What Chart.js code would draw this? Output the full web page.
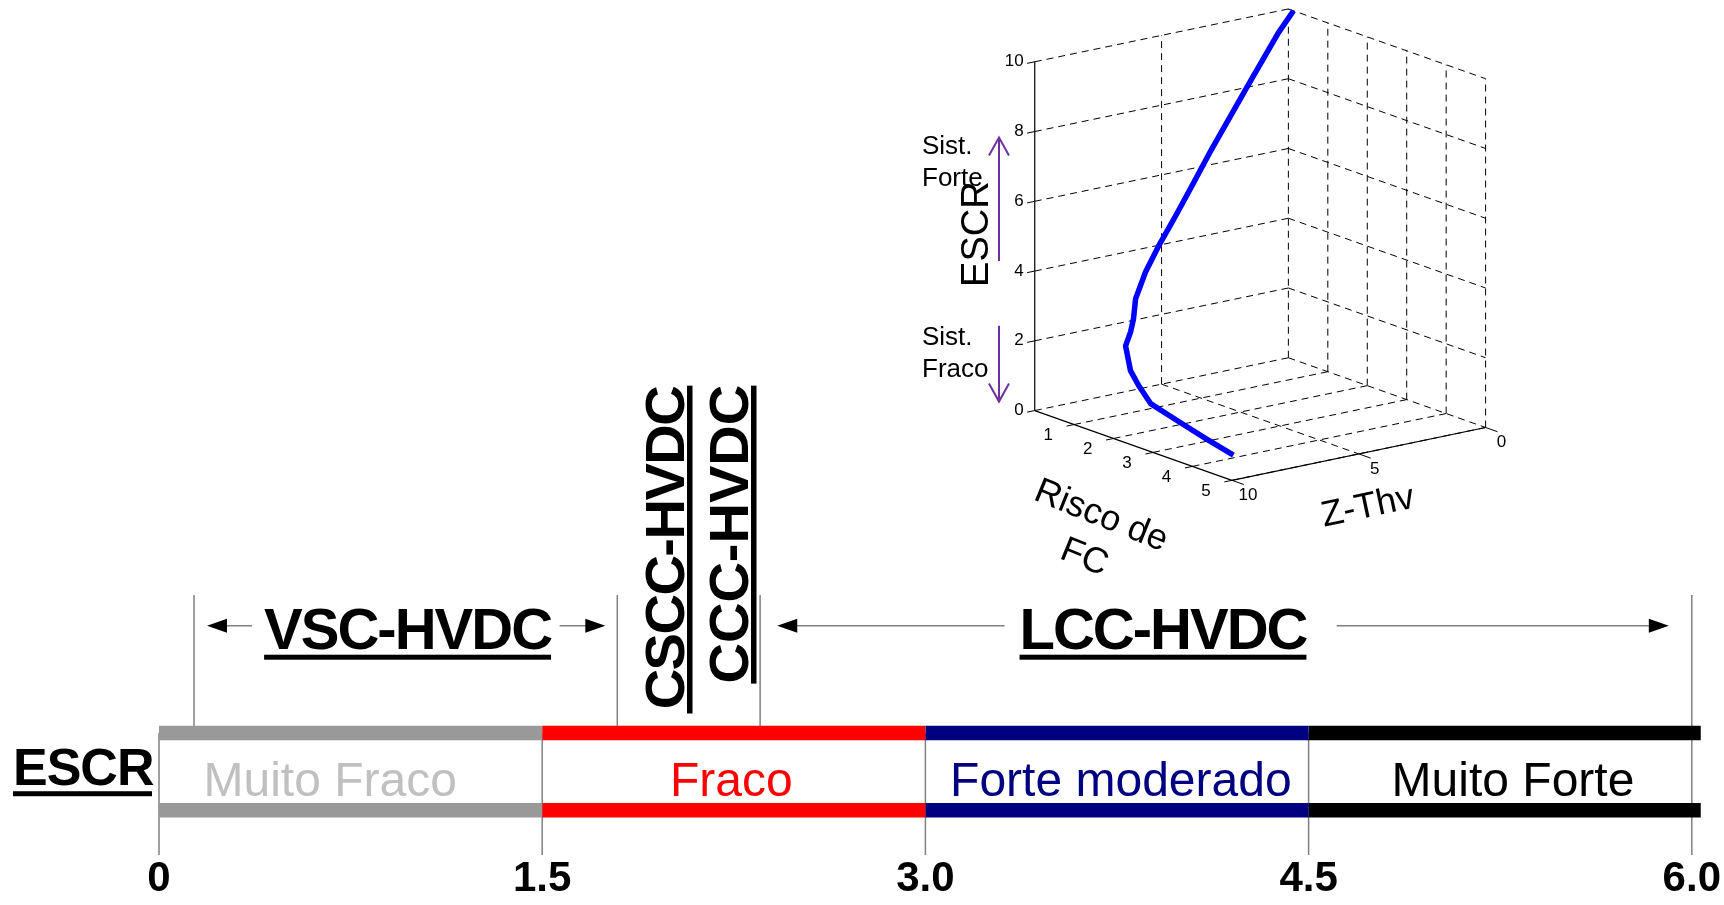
<!DOCTYPE html>
<html>
<head>
<meta charset="utf-8">
<script src="https://cdn.jsdelivr.net/npm/chart.js@4.4.1/dist/chart.umd.min.js"></script>
<style>
  html, body { margin: 0; padding: 0; background: #ffffff; }
  #chart { display: block; }
</style>
</head>
<body>
<canvas id="chart" width="1724" height="905"></canvas>
<script>
// ESCR ruler: region limits, names and colours
const escrBounds = [0, 1.5, 3.0, 4.5, 6.0];
const tickLabels = ['0', '1.5', '3.0', '4.5', '6.0'];
const regionNames = ['Muito Fraco', 'Fraco', 'Forte moderado', 'Muito Forte'];
const regionLabelAt = [0.67, 2.24, 3.765, 5.30];
const regionBarColors = ['#999999', '#ff0000', '#000080', '#000000'];
const regionTextColors = ['#c0c0c0', '#ff0000', '#000080', '#000000'];

// converter technologies and the ESCR where their guide lines stand
const techNames = ['VSC-HVDC', 'CSCC-HVDC', 'CCC-HVDC', 'LCC-HVDC'];
const techLimits = [0.137, 1.794, 2.353, 6.0];

// inset curve: Risco de FC, Z-Thv and ESCR
const riscoFC = [0.13, 0.15, 0.2, 0.3, 0.35, 0.4, 0.45, 0.5, 0.55, 0.6, 0.7, 0.85, 1.27, 1.48, 1.78, 2.49, 3.17, 3.88];
const zThv = [0, 0.63, 2.0, 3.5, 4.36, 5.07, 5.82, 6.41, 6.88, 7.04, 7.31, 7.74, 8.2, 8.2, 8.2, 8.2, 8.2, 8.2];
const escrCurve = [10, 9.47, 8.07, 6.62, 5.71, 4.99, 4.26, 3.63, 2.95, 2.42, 2.13, 1.85, 1.38, 1.03, 0.64, 0.41, 0.2, 0];
const riscoTicks = [1, 2, 3, 4, 5];
const zThvTicks = [0, 5, 10];
const escrTicks = [0, 2, 4, 6, 8, 10];

// layout (pixel rows used through the y scale)
const Y_BAND_TOP = 735.5, Y_BAND_BOTTOM = 813, BAND_W = 14.5;
const Y_AXIS_END = 858, Y_GUIDE_TOP = 597, Y_ARROWS = 628;
const BAR_OVERSHOOT = 0.035;

// inset view: oblique projection of the MATLAB box
const RISCO_MAX = 5, ZTHV_MAX = 10, ESCR_MAX = 10;
const ORIGIN = [1290, 359];
const V_RISCO = [39.5, 14];
const V_ZTHV = [-25.4, 5.3];
const V_ESCR = [0, -35];

function proj(r, z, e) {
    return {
        x: ORIGIN[0] + r * V_RISCO[0] + z * V_ZTHV[0] + e * V_ESCR[0],
        y: ORIGIN[1] + r * V_RISCO[1] + z * V_ZTHV[1] + e * V_ESCR[1]
    };
}

// join a list of segments into one path with gaps
function segPoints(segs) {
    const pts = [];
    segs.forEach((s, i) => {
        if (i) pts.push({ x: NaN, y: NaN });
        s.forEach(p => pts.push(p));
    });
    return pts;
}
function seg3d(segs) {
    return segPoints(segs.map(s => s.map(p => proj(p[0], p[1], p[2]))));
}

// grid of the inset
const gridSegs = [];
escrTicks.forEach(e => gridSegs.push([[0, ZTHV_MAX, e], [0, 0, e]]));
zThvTicks.filter(z => z < ZTHV_MAX).forEach(z => gridSegs.push([[0, z, 0], [0, z, ESCR_MAX]]));
escrTicks.forEach(e => gridSegs.push([[0, 0, e], [RISCO_MAX, 0, e]]));
riscoTicks.forEach(r => gridSegs.push([[r, 0, 0], [r, 0, ESCR_MAX]]));
riscoTicks.forEach(r => gridSegs.push([[r, ZTHV_MAX, 0], [r, 0, 0]]));
zThvTicks.filter(z => z > 0 && z < ZTHV_MAX).forEach(z => gridSegs.push([[0, z, 0], [RISCO_MAX, z, 0]]));

const axisSegs = [
    [[0, ZTHV_MAX, 0], [0, ZTHV_MAX, ESCR_MAX]],
    [[0, ZTHV_MAX, 0], [RISCO_MAX, ZTHV_MAX, 0]],
    [[RISCO_MAX, ZTHV_MAX, 0], [RISCO_MAX, 0, 0]]
];
const tickSegs = [];
escrTicks.forEach(e => tickSegs.push([[0, ZTHV_MAX, e], [0, ZTHV_MAX + 0.3, e]]));
riscoTicks.forEach(r => tickSegs.push([[r, ZTHV_MAX, 0], [r, ZTHV_MAX + 0.3, 0]]));
zThvTicks.forEach(z => tickSegs.push([[RISCO_MAX, z, 0], [RISCO_MAX + 0.3, z, 0]]));

const lineDefaults = { showLine: true, pointRadius: 0, pointHoverRadius: 0, tension: 0, spanGaps: false, fill: false, clip: false };

const datasets = [];
// inset curve on top
datasets.push(Object.assign({}, lineDefaults, {
    xAxisID: 'x3',
    data: riscoFC.map((r, i) => proj(r, zThv[i], escrCurve[i])),
    borderColor: '#0000ff', borderWidth: 5.5, borderJoinStyle: 'round'
}));
datasets.push(Object.assign({}, lineDefaults, {
    xAxisID: 'x3', data: seg3d(axisSegs), borderColor: '#000000', borderWidth: 1.2
}));
datasets.push(Object.assign({}, lineDefaults, {
    xAxisID: 'x3', data: seg3d(tickSegs), borderColor: '#000000', borderWidth: 1
}));
datasets.push(Object.assign({}, lineDefaults, {
    xAxisID: 'x3', data: seg3d(gridSegs), borderColor: '#000000', borderWidth: 1, borderDash: [7, 5]
}));

// ESCR bands
regionNames.forEach((name, i) => {
    const x0 = escrBounds[i];
    const x1 = i === regionNames.length - 1 ? escrBounds[i + 1] + BAR_OVERSHOOT : escrBounds[i + 1];
    [Y_BAND_TOP, Y_BAND_BOTTOM].forEach(yb => {
        datasets.push(Object.assign({}, lineDefaults, {
            data: [{ x: x0, y: yb }, { x: x1, y: yb }],
            borderColor: regionBarColors[i], borderWidth: BAND_W
        }));
    });
});

// region separators and tick lines
datasets.push(Object.assign({}, lineDefaults, {
    data: segPoints(escrBounds.map(b => [{ x: b, y: Y_BAND_TOP }, { x: b, y: Y_AXIS_END }])),
    borderColor: '#808080', borderWidth: 1.5
}));
// guide lines of the technologies
datasets.push(Object.assign({}, lineDefaults, {
    data: segPoints(techLimits.map(b => [{ x: b, y: Y_GUIDE_TOP }, { x: b, y: Y_BAND_TOP }])),
    borderColor: '#808080', borderWidth: 1.5
}));

// arrow spans [tail, tip] in ESCR units
const arrowSpans = [[0.364, 0.188], [1.568, 1.747], [3.31, 2.42], [4.61, 5.91]];

function drawText(ctx, txt, x, y, font, color, align, spacing) {
    ctx.font = font;
    ctx.fillStyle = color;
    ctx.textAlign = align || 'left';
    ctx.letterSpacing = spacing || '0px';
    ctx.fillText(txt, x, y);
    ctx.letterSpacing = '0px';
}

const annotations = {
    id: 'annotations',
    afterDatasetsDraw(chart) {
        const ctx = chart.ctx;
        const X = v => chart.scales.x.getPixelForValue(v);
        const Y = v => chart.scales.y.getPixelForValue(v);
        const PX = v => chart.scales.x3.getPixelForValue(v);
        const P = (r, z, e) => { const p = proj(r, z, e); return { x: PX(p.x), y: Y(p.y) }; };
        ctx.save();
        ctx.textBaseline = 'alphabetic';

        // region names between the bands
        regionNames.forEach((n, i) => {
            drawText(ctx, n, X(regionLabelAt[i]), Y(799), '48px "Liberation Sans"', regionTextColors[i], 'center');
        });

        // ESCR label on the left
        drawText(ctx, 'ESCR', 13, Y(788), 'bold 52px "Liberation Sans"', '#000', 'left', '-1px');
        ctx.fillStyle = '#000';
        ctx.fillRect(13, Y(794), 139, 5);

        // arrows
        arrowSpans.forEach(s => {
            const xt = X(s[0]), xh = X(s[1]), y = Y(Y_ARROWS);
            const dir = Math.sign(xh - xt);
            ctx.strokeStyle = '#808080';
            ctx.lineWidth = 1.5;
            ctx.beginPath();
            ctx.moveTo(xt, y);
            ctx.lineTo(xh - dir * 10, y);
            ctx.stroke();
            ctx.fillStyle = '#000';
            ctx.beginPath();
            ctx.moveTo(xh, y);
            ctx.lineTo(xh - dir * 20, y - 7);
            ctx.lineTo(xh - dir * 20, y + 7);
            ctx.closePath();
            ctx.fill();
        });

        // horizontal technology titles
        [[techNames[0], 0.973], [techNames[3], 3.93]].forEach(t => {
            const cx = X(t[1]);
            drawText(ctx, t[0], cx, Y(651), 'bold 58px "Liberation Sans"', '#000', 'center', '-2px');
            ctx.font = 'bold 58px "Liberation Sans"';
            ctx.letterSpacing = '-2px';
            const w = ctx.measureText(t[0]).width;
            ctx.letterSpacing = '0px';
            ctx.fillRect(cx - w / 2, Y(657), w, 5);
        });

        // vertical titles (CSCC / CCC)
        [[techNames[1], 684, 550, 716, '-1.5px'], [techNames[2], 748, 536, 686, '0px']].forEach(t => {
            ctx.save();
            ctx.translate(t[1], Y(t[2]));
            ctx.rotate(-Math.PI / 2);
            drawText(ctx, t[0], 0, 0, 'bold 56px "Liberation Sans"', '#000', 'center', t[4]);
            ctx.restore();
            ctx.fillStyle = '#000';
            ctx.fillRect(t[1] + 3, Y(387), 5.5, Y(t[3]) - Y(387));
        });

        // inset tick labels
        escrTicks.forEach(e => {
            const p = P(0, ZTHV_MAX, e);
            ctx.textBaseline = 'middle';
            drawText(ctx, String(e), p.x - 11, p.y, '17px "Liberation Sans"', '#000', 'right');
        });
        riscoTicks.forEach(r => {
            const p = P(r, ZTHV_MAX, 0);
            drawText(ctx, String(r), p.x - 26, p.y + 11, '17px "Liberation Sans"', '#000', 'center');
        });
        zThvTicks.forEach(z => {
            const p = P(RISCO_MAX, z, 0);
            drawText(ctx, String(z), p.x + 16, p.y + 15, '17px "Liberation Sans"', '#000', 'center');
        });

        // inset axis titles
        ctx.textBaseline = 'middle';
        ctx.save();
        ctx.translate(978, Y(235));
        ctx.rotate(-Math.PI / 2);
        drawText(ctx, 'ESCR', 0, 0, '38px "Liberation Sans"', '#000', 'center');
        ctx.restore();

        ctx.save();
        ctx.translate(1101, Y(518));
        ctx.rotate(22 * Math.PI / 180);
        drawText(ctx, 'Risco de', 0, 0, '36px "Liberation Sans"', '#000', 'center');
        drawText(ctx, 'FC', 0, 45, '36px "Liberation Sans"', '#000', 'center');
        ctx.restore();

        ctx.save();
        ctx.translate(1368, Y(509));
        ctx.rotate(-12 * Math.PI / 180);
        drawText(ctx, 'Z-Thv', 0, 0, '36px "Liberation Sans"', '#000', 'center');
        ctx.restore();

        // strong / weak system notes with purple arrows
        drawText(ctx, 'Sist.', 922, Y(147), '26px "Liberation Sans"', '#000', 'left');
        drawText(ctx, 'Forte', 922, Y(179), '26px "Liberation Sans"', '#000', 'left');
        drawText(ctx, 'Sist.', 922, Y(339), '26px "Liberation Sans"', '#000', 'left');
        drawText(ctx, 'Fraco', 922, Y(371), '26px "Liberation Sans"', '#000', 'left');

        ctx.strokeStyle = '#7030a0';
        ctx.lineWidth = 2;
        [[262, 138], [327, 403]].forEach(a => {
            const x = 999, y0 = Y(a[0]), y1 = Y(a[1]);
            const d = Math.sign(y1 - y0);
            ctx.beginPath();
            ctx.moveTo(x, y0);
            ctx.lineTo(x, y1);
            ctx.moveTo(x - 10, y1 - d * 18);
            ctx.lineTo(x, y1);
            ctx.lineTo(x + 10, y1 - d * 18);
            ctx.stroke();
        });

        ctx.restore();
    }
};

new Chart(document.getElementById('chart'), {
    type: 'scatter',
    data: { datasets: datasets },
    options: {
        responsive: false,
        animation: false,
        events: [],
        layout: { padding: { left: 159, right: 30, top: 0, bottom: 2 } },
        plugins: { legend: { display: false }, tooltip: { enabled: false } },
        scales: {
            x: {
                type: 'linear', position: 'bottom', min: 0, max: 6,
                grid: { display: false, drawTicks: false },
                border: { display: false },
                afterBuildTicks: scale => { scale.ticks = escrBounds.map(v => ({ value: v })); },
                ticks: {
                    autoSkip: false, maxRotation: 0, padding: 3, color: '#000000',
                    font: { family: 'Liberation Sans', size: 42, weight: 'bold', lineHeight: 1 },
                    callback: (v, i) => tickLabels[i]
                }
            },
            y: { type: 'linear', min: 0, max: Y_AXIS_END, reverse: true, display: false },
            x3: { type: 'linear', position: 'bottom', min: 159, max: 1694, display: false }
        }
    },
    plugins: [annotations]
});
</script>
</body>
</html>
